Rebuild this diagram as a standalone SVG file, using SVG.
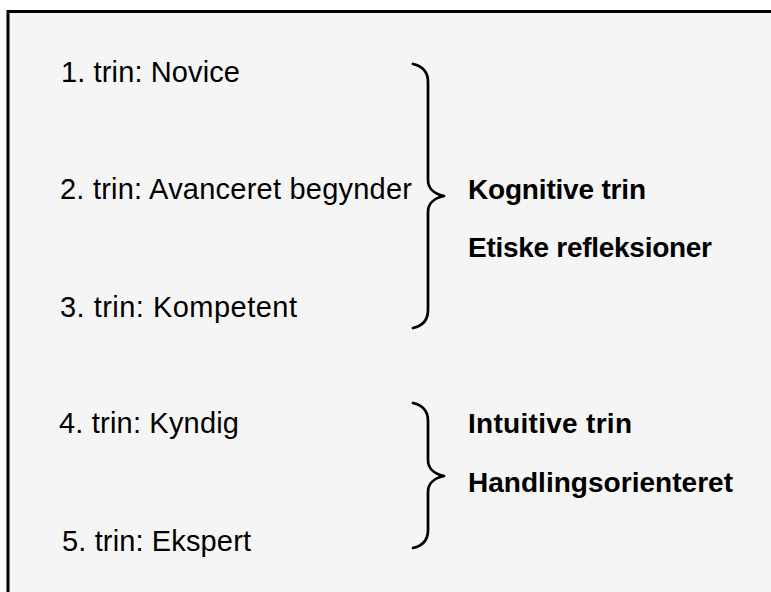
<svg xmlns="http://www.w3.org/2000/svg" width="771" height="592" viewBox="0 0 771 592">
  <style>
    .t { font-family: "Liberation Sans", Arial, sans-serif; font-size: 29px; fill: #000; }
    .b { font-family: "Liberation Sans", Arial, sans-serif; font-size: 28px; font-weight: bold; fill: #000; }
    .brace { fill: none; stroke: #000; stroke-width: 2.75; stroke-linecap: round; stroke-linejoin: round; }
  </style>
  <rect x="0" y="0" width="771" height="592" fill="#ffffff"/>
  <rect id="frame" x="8" y="11.5" width="780" height="600" fill="#f5f5f5" stroke="#000" stroke-width="3"/>

  <g id="step1"><text class="t" x="61" y="82" textLength="179">1. trin: Novice</text></g>
  <g id="step2"><text class="t" x="60" y="199" textLength="352">2. trin: Avanceret begynder</text></g>
  <g id="step3"><text class="t" x="60" y="317" textLength="237">3. trin: Kompetent</text></g>
  <g id="step4"><text class="t" x="59" y="433" textLength="180">4. trin: Kyndig</text></g>
  <g id="step5"><text class="t" x="62" y="551" textLength="189">5. trin: Ekspert</text></g>

  <g id="group1-labels">
    <text class="b" x="468" y="199" textLength="178">Kognitive trin</text>
    <text class="b" x="468" y="257" textLength="244">Etiske refleksioner</text>
  </g>
  <g id="group2-labels">
    <text class="b" x="468" y="433" textLength="164">Intuitive trin</text>
    <text class="b" x="468" y="492" textLength="265">Handlingsorienteret</text>
  </g>

  <g id="connectors">
    <path id="brace1" class="brace" d="M413,64 C422,66 428,72 428,82 L428,180 C428,188 434,194 444,196 C434,198 428,204 428,212 L428,310 C428,320 422,326 413,328"/>
    <path id="brace2" class="brace" d="M413,403 C422,405 428,411 428,421 L428,460 C428,468 434,474 444,476 C434,478 428,484 428,492 L428,530 C428,540 422,546 413,548"/>
  </g>
</svg>
